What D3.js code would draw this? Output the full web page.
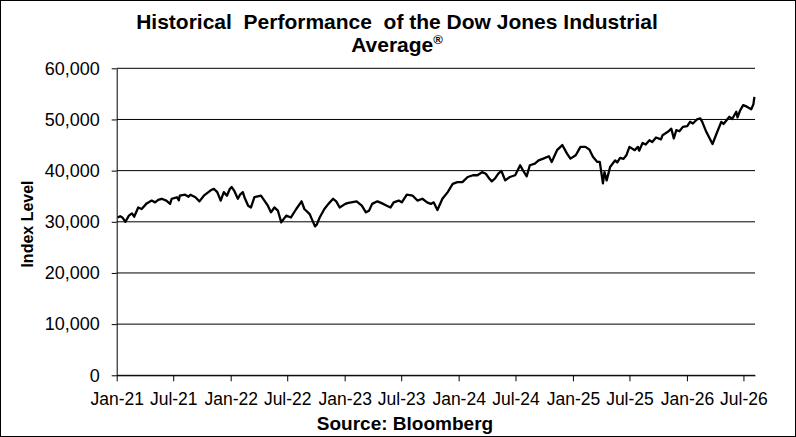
<!DOCTYPE html>
<html>
<head>
<meta charset="utf-8">
<script src="https://cdn.jsdelivr.net/npm/d3@7"></script>
<style>
  body { margin: 0; background: #fff; }
  svg { display: block; }
</style>
</head>
<body>
<div class="chart"></div>
<script>

// Dow Jones closing levels, [date, level]
var dow2021 = [
  ["2021-01-04", 30850], ["2021-01-12", 31100], ["2021-01-19", 30850], ["2021-01-29", 30000],
  ["2021-02-09", 31200], ["2021-02-19", 31650], ["2021-02-26", 31000], ["2021-03-11", 32800],
  ["2021-03-22", 32500], ["2021-04-07", 33600], ["2021-04-23", 34150], ["2021-05-04", 33800],
  ["2021-05-14", 34300], ["2021-05-25", 34500], ["2021-06-09", 34150], ["2021-06-21", 33500],
  ["2021-06-26", 34500], ["2021-07-13", 34800], ["2021-07-19", 34200], ["2021-07-22", 35100],
  ["2021-08-08", 35300], ["2021-08-19", 34900], ["2021-08-25", 35300], ["2021-09-10", 34800],
  ["2021-09-23", 34000], ["2021-10-07", 35100], ["2021-10-28", 36100], ["2021-11-08", 36450],
  ["2021-11-19", 35800], ["2021-11-30", 34150], ["2021-12-10", 35800], ["2021-12-20", 35100],
  ["2021-12-29", 36400]
];

var dow2022 = [
  ["2022-01-04", 36800], ["2022-01-12", 36100], ["2022-01-24", 34500], ["2022-01-31", 35300],
  ["2022-02-09", 35800], ["2022-02-14", 34800], ["2022-02-26", 33150], ["2022-03-07", 32800],
  ["2022-03-18", 34800], ["2022-04-08", 35100], ["2022-04-19", 34150], ["2022-04-30", 33150],
  ["2022-05-10", 31850], ["2022-05-21", 32800], ["2022-06-01", 32200], ["2022-06-12", 29900],
  ["2022-06-28", 31200], ["2022-07-13", 30850], ["2022-07-30", 32500], ["2022-08-16", 34000],
  ["2022-08-25", 32500], ["2022-09-11", 31500], ["2022-09-28", 29100], ["2022-10-04", 29500],
  ["2022-10-13", 30850], ["2022-10-28", 32500], ["2022-11-10", 33500], ["2022-11-25", 34500],
  ["2022-12-05", 34000], ["2022-12-16", 32800]
];

var dow2023 = [
  ["2023-01-03", 33500], ["2023-01-13", 33700], ["2023-01-22", 33800], ["2023-02-08", 34000],
  ["2023-02-25", 33150], ["2023-03-10", 31850], ["2023-03-20", 32170], ["2023-03-30", 33500],
  ["2023-04-16", 34000], ["2023-05-01", 33600], ["2023-05-16", 33150], ["2023-05-28", 32800],
  ["2023-06-07", 33800], ["2023-06-23", 34150], ["2023-07-03", 33800], ["2023-07-19", 35300],
  ["2023-08-07", 35100], ["2023-08-22", 34150], ["2023-09-07", 34500], ["2023-09-22", 33800],
  ["2023-10-04", 33500], ["2023-10-13", 33800], ["2023-10-25", 32300], ["2023-11-10", 34500],
  ["2023-11-27", 35800], ["2023-12-13", 37400], ["2023-12-28", 37750]
];

var dow2024 = [
  ["2024-01-13", 37750], ["2024-01-30", 38750], ["2024-02-16", 39100], ["2024-03-01", 39100],
  ["2024-03-16", 39700], ["2024-03-28", 39400], ["2024-04-10", 38300], ["2024-04-16", 37900],
  ["2024-04-26", 38430], ["2024-05-07", 39400], ["2024-05-17", 39930], ["2024-05-29", 38100],
  ["2024-06-13", 38750], ["2024-06-30", 39100], ["2024-07-16", 41050], ["2024-07-25", 40050],
  ["2024-08-06", 38900], ["2024-08-16", 41050], ["2024-09-01", 41370], ["2024-09-13", 42000],
  ["2024-09-28", 42350], ["2024-10-16", 42800], ["2024-10-25", 41700], ["2024-11-11", 44000],
  ["2024-11-28", 45000], ["2024-12-13", 43330], ["2024-12-24", 42350]
];

var dow2025 = [
  ["2025-01-10", 43000], ["2025-01-25", 44640], ["2025-02-10", 44640], ["2025-02-23", 44100],
  ["2025-03-06", 42700], ["2025-03-20", 41700], ["2025-03-28", 41700], ["2025-04-07", 37500],
  ["2025-04-12", 39700], ["2025-04-19", 38100], ["2025-04-30", 40700], ["2025-05-16", 42000],
  ["2025-05-23", 41600], ["2025-06-01", 42500], ["2025-06-12", 42300], ["2025-06-21", 43000],
  ["2025-07-01", 44640], ["2025-07-18", 44000], ["2025-07-28", 44640], ["2025-08-01", 43900],
  ["2025-08-12", 45400], ["2025-08-22", 45100], ["2025-09-03", 45950], ["2025-09-12", 45600],
  ["2025-09-24", 46470], ["2025-10-10", 46100], ["2025-10-15", 46930], ["2025-11-01", 47580],
  ["2025-11-12", 48200], ["2025-11-20", 46300], ["2025-11-28", 47900], ["2025-12-08", 47700],
  ["2025-12-19", 48560]
];

var dow2026 = [
  ["2026-01-02", 48700], ["2026-01-11", 49540], ["2026-01-20", 49200], ["2026-02-02", 50000],
  ["2026-02-13", 50200], ["2026-02-19", 49540], ["2026-03-04", 47580], ["2026-03-24", 45200],
  ["2026-04-06", 47250], ["2026-04-21", 49540], ["2026-04-28", 49100], ["2026-05-17", 50520],
  ["2026-05-26", 50100], ["2026-06-08", 51500], ["2026-06-12", 50400], ["2026-06-20", 51700],
  ["2026-06-30", 52800], ["2026-07-12", 52500], ["2026-07-26", 52000], ["2026-08-02", 53000],
  ["2026-08-05", 54400]
];

var yTicks = [0, 10000, 20000, 30000, 40000, 50000, 60000];
var xTickDates = ["2021-01-01", "2021-07-01", "2022-01-01", "2022-07-01", "2023-01-01", "2023-07-01",
                  "2024-01-01", "2024-07-01", "2025-01-01", "2025-07-01", "2026-01-01", "2026-07-01"];
var xStart = "2021-01-01", xEnd = "2026-08-07";

var width = 796,
    height = 437,
    plotLeft = 116.7, plotRight = 755, plotTop = 68.3, plotBottom = 375.3;

var parse = d3.timeParse("%Y-%m-%d");
var font = "Arial, 'Liberation Sans', Helvetica, sans-serif";

var data = [].concat(dow2021, dow2022, dow2023, dow2024, dow2025, dow2026)
  .map(function(d) { return { date: parse(d[0]), value: d[1] }; });

var x = d3.scaleTime()
    .domain([parse(xStart), parse(xEnd)])
    .range([plotLeft, plotRight]);

var y = d3.scaleLinear()
    .domain([0, 60000])
    .range([plotBottom, plotTop]);

var svg = d3.select(".chart").append("svg")
    .attr("width", width)
    .attr("height", height)
    .attr("font-family", font);

// outer frame
svg.append("rect")
    .attr("x", 0.5).attr("y", 0.5)
    .attr("width", width - 1).attr("height", height - 1)
    .attr("fill", "#fff")
    .attr("stroke", "#000");

// gridlines
svg.append("g")
  .selectAll("line")
    .data(yTicks)
  .enter().append("line")
    .attr("x1", plotLeft).attr("x2", plotRight)
    .attr("y1", function(d) { return y(d); })
    .attr("y2", function(d) { return y(d); })
    .attr("stroke", "#000")
    .attr("stroke-width", 1);

// y axis
var yAxis = svg.append("g")
    .attr("transform", "translate(" + plotLeft + ",0)")
    .call(d3.axisLeft(y)
      .tickValues(yTicks)
      .tickSize(5)
      .tickSizeOuter(0)
      .tickPadding(12)
      .tickFormat(d3.format(",")));

yAxis.attr("font-family", font).attr("font-size", 18);
yAxis.selectAll("text").attr("fill", "#000");
yAxis.selectAll("line, path").attr("stroke", "#000");

// x axis
var xAxis = svg.append("g")
    .attr("transform", "translate(0," + plotBottom + ")")
    .call(d3.axisBottom(x)
      .tickValues(xTickDates.map(parse))
      .tickSize(6)
      .tickSizeOuter(0)
      .tickPadding(11)
      .tickFormat(d3.timeFormat("%b-%y")));

xAxis.attr("font-family", font).attr("font-size", 17.5);
xAxis.selectAll("text").attr("fill", "#000");
xAxis.selectAll("line, path").attr("stroke", "#000");

// the index line
var line = d3.line()
    .x(function(d) { return x(d.date); })
    .y(function(d) { return y(d.value); });

svg.append("path")
    .datum(data)
    .attr("d", line)
    .attr("fill", "none")
    .attr("stroke", "#000")
    .attr("stroke-width", 2.3)
    .attr("stroke-linejoin", "round");

// titles
svg.append("text")
    .attr("x", 397).attr("y", 29)
    .attr("text-anchor", "middle")
    .attr("font-size", 21)
    .attr("font-weight", "bold")
    .style("white-space", "pre")
    .text("Historical  Performance  of the Dow Jones Industrial");

var t2 = svg.append("text")
    .attr("x", 397).attr("y", 52)
    .attr("text-anchor", "middle")
    .attr("font-size", 21)
    .attr("font-weight", "bold");
t2.append("tspan").text("Average");
t2.append("tspan").attr("font-size", 13).attr("dy", -8).text("®");

svg.append("text")
    .attr("transform", "translate(33,224) rotate(-90)")
    .attr("text-anchor", "middle")
    .attr("font-size", 16)
    .attr("font-weight", "bold")
    .text("Index Level");

svg.append("text")
    .attr("x", 405).attr("y", 430)
    .attr("text-anchor", "middle")
    .attr("font-size", 19)
    .attr("font-weight", "bold")
    .text("Source: Bloomberg");

</script>
</body>
</html>
